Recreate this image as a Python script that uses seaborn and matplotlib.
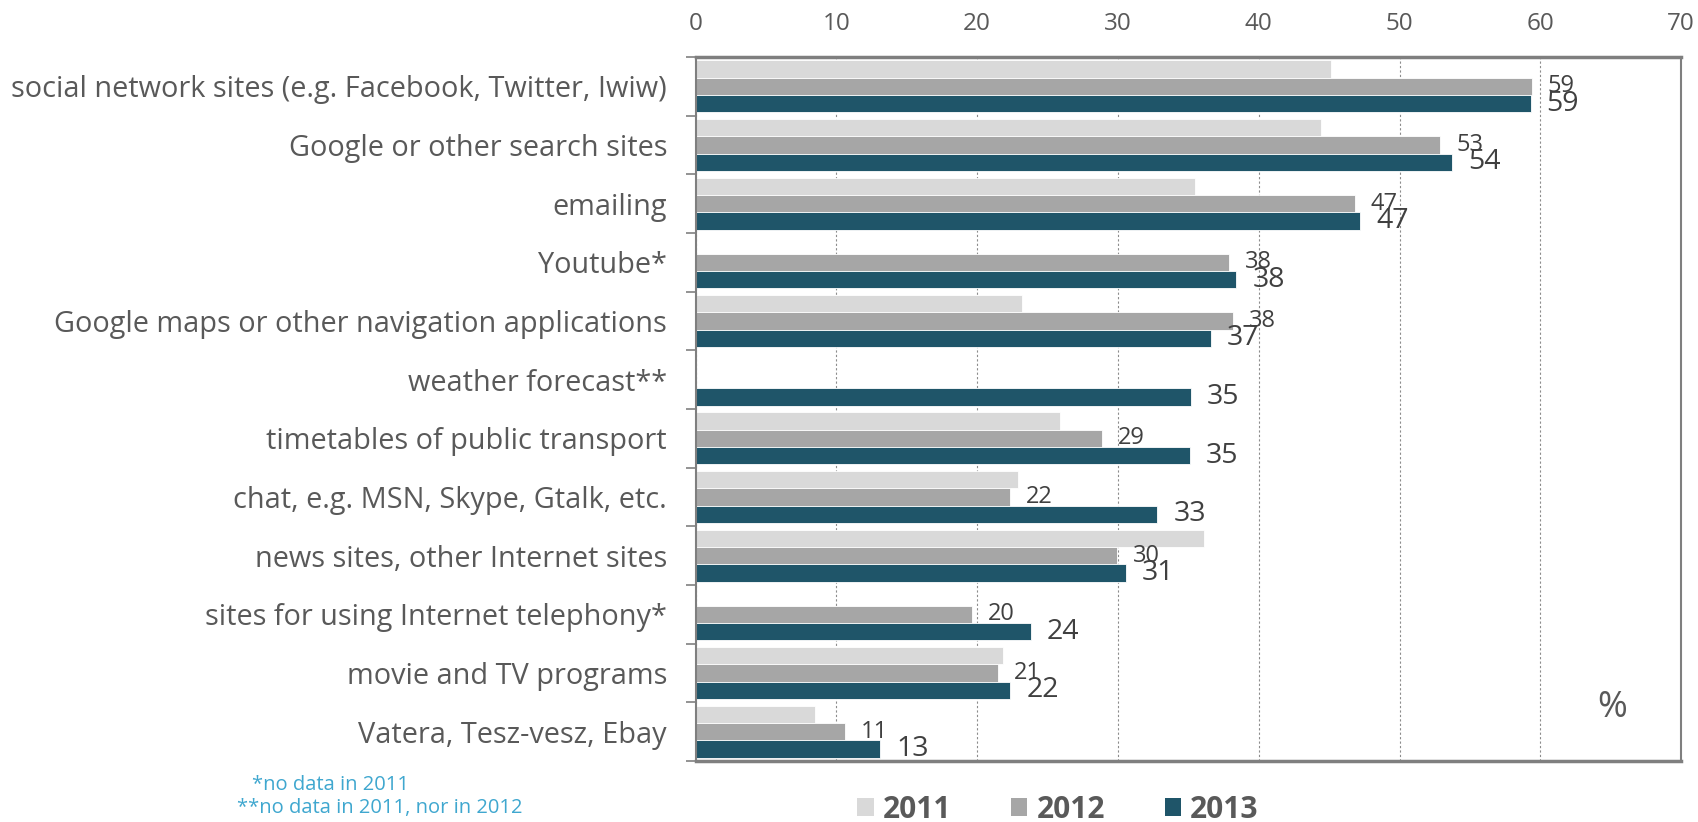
import numpy as np
import pandas as pd
import matplotlib
matplotlib.use("Agg")
import matplotlib.pyplot as plt
import seaborn as sns
from matplotlib.patches import Patch
from matplotlib.ticker import FixedLocator

# ---- data -------------------------------------------------------------
categories = [
    "social network sites (e.g. Facebook, Twitter, Iwiw)",
    "Google or other search sites",
    "emailing",
    "Youtube*",
    "Google maps or other navigation applications",
    "weather forecast**",
    "timetables of public transport",
    "chat, e.g. MSN, Skype, Gtalk, etc.",
    "news sites, other Internet sites",
    "sites for using Internet telephony*",
    "movie and TV programs",
    "Vatera, Tesz-vesz, Ebay",
]
years = ["2011", "2012", "2013"]
v2011 = [45.1, 44.4, 35.5, np.nan, 23.2, np.nan, 25.9, 22.9, 36.1, np.nan, 21.85, 8.5]
v2012 = [59.4, 52.9, 46.8, 37.9, 38.15, np.nan, 28.85, 22.3, 29.9, 19.6, 21.45, 10.6]
v2013 = [59.3, 53.75, 47.2, 38.4, 36.6, 35.2, 35.1, 32.8, 30.55, 23.8, 22.35, 13.1]
x_ticks = [0, 10, 20, 30, 40, 50, 60, 70]
footnotes = ["*no data in 2011", "**no data in 2011, nor in 2012"]
unit_label = "%"

palette = {"2011": "#D9D9D9", "2012": "#A6A6A6", "2013": "#1F5569"}
text_grey = "#595959"

df = pd.DataFrame({
    "category": categories * 3,
    "year": [y for y in years for _ in categories],
    "value": v2011 + v2012 + v2013,
})

# ---- style ------------------------------------------------------------
sns.set_style("white")
plt.rcParams["font.family"] = ["Open Sans", "DejaVu Sans"]

fig = plt.figure(figsize=(16.99, 8.22), dpi=100)
ax = fig.add_axes([0.4094, 0.0742, 0.5801, 0.8565])

sns.barplot(
    data=df, y="category", x="value", hue="year",
    order=categories, hue_order=years, palette=palette,
    orient="h", width=0.885, saturation=1, legend=False,
    edgecolor="white", linewidth=0.6, ax=ax,
)

ax.set_xlim(0, 70)
ax.set_ylim(len(categories) - 0.5, -0.5)
ax.set_xlabel("")
ax.set_ylabel("")

# x axis on top
ax.xaxis.tick_top()
ax.set_xticks(x_ticks)
ax.tick_params(axis="x", length=0, pad=15, labelsize=17.5, labelcolor=text_grey)
ax.grid(axis="x", linestyle=(0, (2, 2)), color="#8c8c8c", linewidth=0.8)
ax.grid(axis="y", visible=False)
ax.set_axisbelow(True)

# y axis: labels at category centres, tick marks at category boundaries
ax.tick_params(axis="y", which="major", length=0, pad=20.5, labelsize=20.8,
               labelcolor=text_grey)
ax.yaxis.set_minor_locator(FixedLocator(np.arange(-0.5, len(categories), 1.0)))
ax.tick_params(axis="y", which="minor", length=7, width=1.2, color="#808080",
               direction="out", left=True)

for side, lw in (("top", 2.5), ("bottom", 2.5), ("left", 1.5), ("right", 1.5)):
    ax.spines[side].set_visible(True)
    ax.spines[side].set_color("#7f7f7f")
    ax.spines[side].set_linewidth(lw)

# value labels for 2012 and 2013
label_sizes = {"2012": 17, "2013": 20.5}
for cont, year in zip(ax.containers, years):
    if year not in label_sizes:
        continue
    vals = cont.datavalues
    ax.bar_label(cont, labels=[f"{v:.0f}" for v in vals], padding=11.5,
                 fontsize=label_sizes[year], color="#404040")

# legend
handles = [Patch(facecolor=palette[y], edgecolor="none") for y in years]
fig.legend(handles, years, loc="center", bbox_to_anchor=(1058 / 1699, 1 - 810 / 822),
           ncol=3, frameon=False, prop={"weight": "bold", "size": 21.5},
           labelcolor=text_grey, handlelength=0.55, handleheight=0.55,
           handletextpad=0.3, columnspacing=2.0, borderpad=0)

# footnotes and unit
fig.text(252 / 1699, 1 - 785 / 822, footnotes[0], ha="left", va="center",
         fontsize=14.5, color="#3FA7CF")
fig.text(237 / 1699, 1 - 808 / 822, footnotes[1], ha="left", va="center",
         fontsize=14.5, color="#3FA7CF")
fig.text(1612 / 1699, 1 - 708 / 822, unit_label, ha="center", va="center",
         fontsize=26, color=text_grey)

fig.savefig("out.png", dpi=100)
